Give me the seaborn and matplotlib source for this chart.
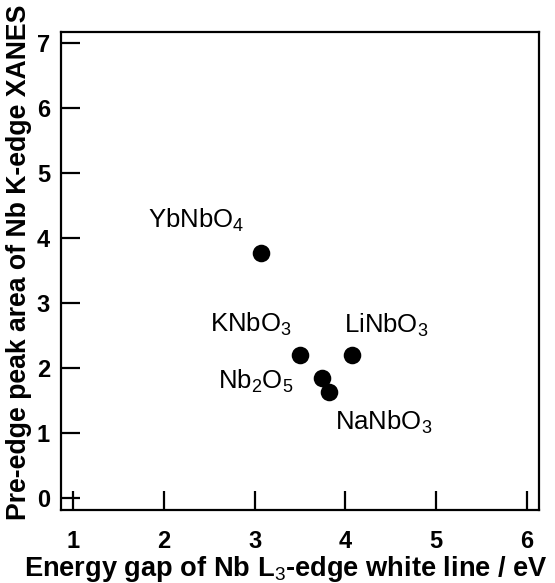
import matplotlib
matplotlib.use("Agg")
import matplotlib.pyplot as plt
import seaborn as sns
import pandas as pd

compounds = ["YbNbO$_4$", "KNbO$_3$", "LiNbO$_3$", "Nb$_2$O$_5$", "NaNbO$_3$"]
energy_gap = [3.07, 3.50, 4.07, 3.74, 3.82]
peak_area = [3.78, 2.20, 2.20, 1.85, 1.63]
label_x = [1.83, 2.51, 3.98, 2.60, 3.885]
label_y = [4.17, 2.57, 2.55, 1.69, 1.06]
x_ticks = [1, 2, 3, 4, 5, 6]
y_ticks = [0, 1, 2, 3, 4, 5, 6, 7]

sns.set_style("ticks")
plt.rcParams['font.family'] = ['Liberation Sans', 'DejaVu Sans']
plt.rcParams['mathtext.fontset'] = 'custom'
plt.rcParams['mathtext.rm'] = 'Liberation Sans'
plt.rcParams['mathtext.bf'] = 'Liberation Sans:bold'
for k in ['text.color', 'axes.labelcolor', 'xtick.color', 'ytick.color', 'axes.edgecolor']:
    plt.rcParams[k] = 'black'

df = pd.DataFrame({"x": energy_gap, "y": peak_area, "name": compounds})

fig = plt.figure(figsize=(5.55, 5.83), dpi=100)
ax = fig.add_axes([0.110, 0.125, 0.861, 0.820])
sns.scatterplot(data=df, x="x", y="y", ax=ax, color="black", s=160,
                edgecolor="black", linewidth=0, zorder=3)

for lx, ly, name in zip(label_x, label_y, compounds):
    ax.text(lx, ly, name, fontsize=18.5, ha="left", va="baseline", color="black")

ax.set_xlim(0.87, 6.13)
ax.set_ylim(-0.18, 7.17)
ax.set_xticks(x_ticks)
ax.set_yticks(y_ticks)
ax.tick_params(direction="in", length=14, width=1.6, labelsize=17)
ax.tick_params(axis="x", pad=14)
ax.tick_params(axis="y", pad=8)
for lab in ax.get_xticklabels() + ax.get_yticklabels():
    lab.set_fontweight("bold")
for sp in ax.spines.values():
    sp.set_linewidth(1.6)
    sp.set_visible(True)
ax.set_xlabel("Energy gap of Nb L$_3$-edge white line / eV", fontsize=19.6,
              fontweight="bold")
ax.set_ylabel("Pre-edge peak area of Nb K-edge XANES", fontsize=19.2,
              fontweight="bold")
ax.xaxis.set_label_coords(0.471, -0.092)
ax.yaxis.set_label_coords(-0.060, 0.519)
fig.savefig("out.png", dpi=100)
